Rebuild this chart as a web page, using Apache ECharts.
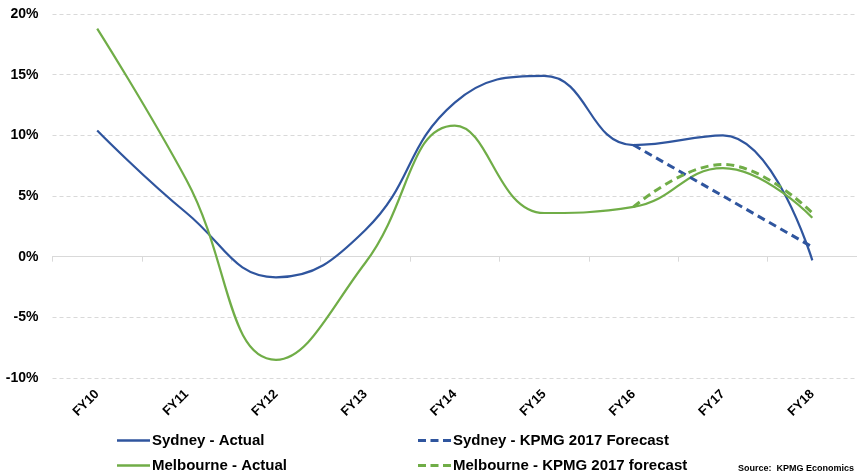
<!DOCTYPE html>
<html>
<head>
<meta charset="utf-8">
<script src="https://cdn.jsdelivr.net/npm/echarts@6/dist/echarts.min.js"></script>
<style>
  html, body { margin: 0; padding: 0; background: #ffffff; }
  #chart { width: 857px; height: 476px; }
</style>
</head>
<body>
<div id="chart"></div>
<script>
// Annual growth (%) by financial year
const categories = ['FY10', 'FY11', 'FY12', 'FY13', 'FY14', 'FY15', 'FY16', 'FY17', 'FY18'];
const sydneyActual = [10.4, 3.6, -1.7, 2.2, 12.7, 14.9, 9.2, 10.0, -0.3];
const melbourneActual = [18.8, 6.3, -8.5, -0.5, 10.8, 3.6, 4.1, 7.3, 3.2];
const sydneyForecast = [null, null, null, null, null, null, 9.2, 5.0, 0.8];
const melbourneForecast = [null, null, null, null, null, null, 4.1, 7.6, 3.6];
const yTicks = { min: -10, max: 20, step: 5 };

const BLUE = '#2F559E';
const GREEN = '#70AD47';
const FONT = 'Liberation Sans, Arial, sans-serif';

// legend keys: a plain stroke and a dashed stroke
const SOLID_KEY = 'path://M0,0h33v2.4h-33z';
const DASH_KEY = 'path://M0,0h8v3h-8z M12.5,0h8v3h-8z M25,0h8v3h-8z';

const chart = echarts.init(document.getElementById('chart'), null, { renderer: 'canvas' });

const legendText = { color: '#000000', fontWeight: 'bold', fontSize: 15, fontFamily: FONT, padding: [0, 0, 0, -3] };

chart.setOption({
  animation: false,
  backgroundColor: '#ffffff',
  textStyle: { fontFamily: FONT },
  grid: { left: 52.5, right: -3, top: 14, bottom: 98 },
  xAxis: [
    {
      type: 'category',
      data: categories,
      position: 'bottom',
      axisLine: { show: false, onZero: false },
      axisTick: { show: false },
      axisLabel: {
        rotate: 45,
        margin: 14,
        color: '#000000',
        fontWeight: 'bold',
        fontSize: 13,
        fontFamily: FONT
      }
    },
    {
      // zero line with category boundary ticks
      type: 'category',
      data: categories,
      position: 'bottom',
      axisLine: { show: true, onZero: true, lineStyle: { color: '#d9d9d9', width: 1 } },
      axisTick: { show: true, length: 5, inside: false, lineStyle: { color: '#d9d9d9' } },
      axisLabel: { show: false }
    }
  ],
  yAxis: {
    type: 'value',
    min: yTicks.min,
    max: yTicks.max,
    interval: yTicks.step,
    axisLine: { show: false },
    axisTick: { show: false },
    axisLabel: {
      formatter: '{value}%',
      margin: 14,
      color: '#000000',
      fontWeight: 'bold',
      fontSize: 14,
      fontFamily: FONT
    },
    splitLine: { lineStyle: { color: '#d9d9d9', type: [4, 3], width: 1 } }
  },
  legend: [
    {
      orient: 'vertical',
      left: 117,
      top: 433,
      padding: 0,
      itemGap: 10,
      itemWidth: 33,
      itemHeight: 14,
      textStyle: legendText,
      data: [
        { name: 'Sydney - Actual', icon: SOLID_KEY },
        { name: 'Melbourne - Actual', icon: SOLID_KEY }
      ]
    },
    {
      orient: 'vertical',
      left: 418,
      top: 433,
      padding: 0,
      itemGap: 10,
      itemWidth: 33,
      itemHeight: 14,
      textStyle: legendText,
      data: [
        { name: 'Sydney - KPMG 2017 Forecast', icon: DASH_KEY },
        { name: 'Melbourne - KPMG 2017 forecast', icon: DASH_KEY }
      ]
    }
  ],
  graphic: [
    {
      type: 'text',
      right: 3,
      bottom: 3,
      style: {
        text: 'Source:  KPMG Economics',
        fill: '#000000',
        font: 'bold 9px ' + FONT
      }
    }
  ],
  series: [
    {
      name: 'Sydney - Actual',
      type: 'line',
      data: sydneyActual,
      smooth: 0.45,
      symbol: 'none',
      color: BLUE,
      lineStyle: { color: BLUE, width: 2.2 },
      z: 3
    },
    {
      name: 'Melbourne - Actual',
      type: 'line',
      data: melbourneActual,
      smooth: 0.45,
      symbol: 'none',
      color: GREEN,
      lineStyle: { color: GREEN, width: 2.2 },
      z: 3
    },
    {
      name: 'Sydney - KPMG 2017 Forecast',
      type: 'line',
      data: sydneyForecast,
      smooth: false,
      symbol: 'none',
      color: BLUE,
      lineStyle: { color: BLUE, width: 3, type: [8, 5] },
      z: 4
    },
    {
      name: 'Melbourne - KPMG 2017 forecast',
      type: 'line',
      data: melbourneForecast,
      smooth: 0.45,
      symbol: 'none',
      color: GREEN,
      lineStyle: { color: GREEN, width: 3, type: [8, 5] },
      z: 4
    }
  ]
});
</script>
</body>
</html>
